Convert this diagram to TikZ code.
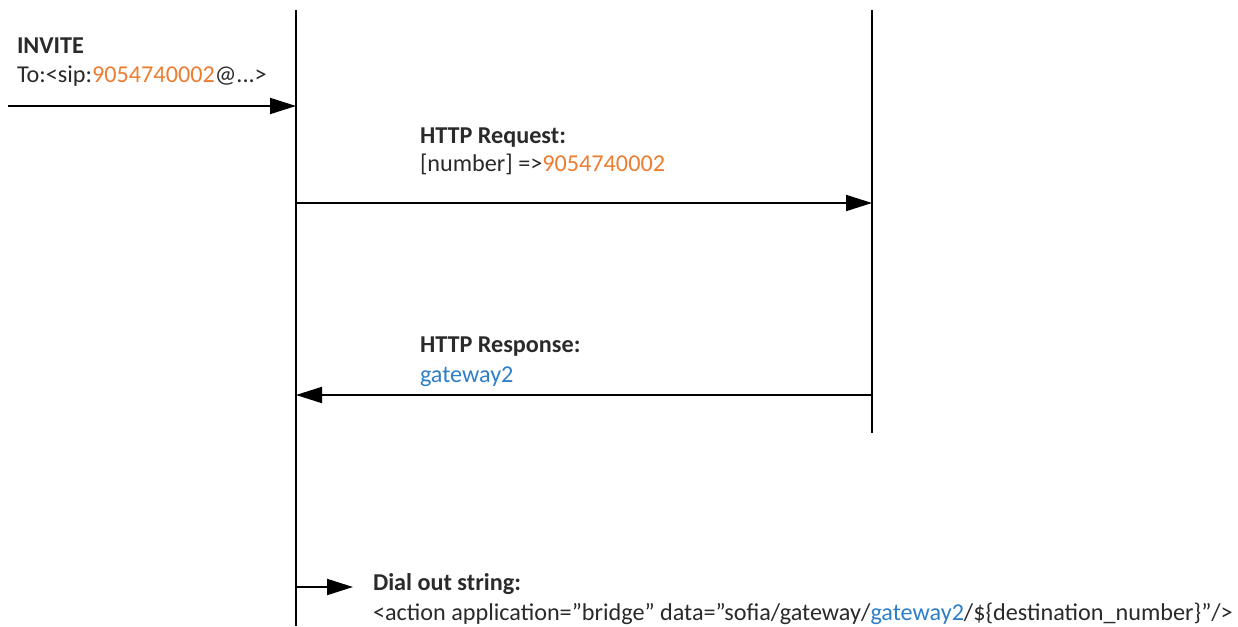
\documentclass[tikz,border=0pt]{standalone}
\usepackage{fontspec}
\setmainfont{Carlito}
\usetikzlibrary{arrows.meta}
\definecolor{txt}{HTML}{2A2A2A}
\definecolor{org}{HTML}{ED7D31}
\definecolor{blu}{HTML}{2F7FC8}
\tikzset{
  life/.style={line width=2pt, draw=black},
  msg/.style={line width=2pt, draw=black, -{Triangle[length=26pt,width=16pt]}},
  lbl/.style={anchor=base west, inner sep=0pt, outer sep=0pt, text=txt, font=\fontsize{24.2}{28}\selectfont},
  hd/.style={lbl, font=\fontsize{24.2}{28}\selectfont\bfseries},
}
\begin{document}
\begin{tikzpicture}[x=1pt,y=-1pt]
\useasboundingbox[fill=white] (0,0) rectangle (1238,626);
% lifelines
\coordinate (Ltop) at (296,10);
\coordinate (Lbot) at (296,626);
\coordinate (Rtop) at (872,10);
\coordinate (Rbot) at (872,433);
\draw[life] (Ltop) -- (Lbot);
\draw[life] (Rtop) -- (Rbot);
% message points
\coordinate (invS) at (8,106);
\coordinate (invE) at (296,106);
\coordinate (reqS) at (296,203);
\coordinate (reqE) at (872,203);
\coordinate (resS) at (872,395);
\coordinate (resE) at (296,395);
\coordinate (dialS) at (296,587);
\coordinate (dialE) at (353,587);
\draw[msg] (invS) -- (invE);
\draw[msg] (reqS) -- (reqE);
\draw[msg] (resS) -- (resE);
\draw[msg] (dialS) -- (dialE);
% labels
\node[hd] (invT) at (17,54) {INVITE};
\node[lbl] (invB) at (17,82) {To:<sip:\textcolor{org}{9054740002}@...>};
\node[hd] (reqT) at (420,143) {HTTP Request:};
\node[lbl] (reqB) at (420,171) {[number] =>\textcolor{org}{9054740002}};
\node[hd] (resT) at (420,352) {HTTP Response:};
\node[lbl] (resB) at (420,382) {\textcolor{blu}{gateway2}};
\node[hd] (dialT) at (373,590) {Dial out string:};
\node[lbl] (dialB) at (373,620) {<action application=”bridge” data=”sofia/gateway/\textcolor{blu}{gateway2}/\$\{destination\_number\}”/>};
\end{tikzpicture}
\end{document}
